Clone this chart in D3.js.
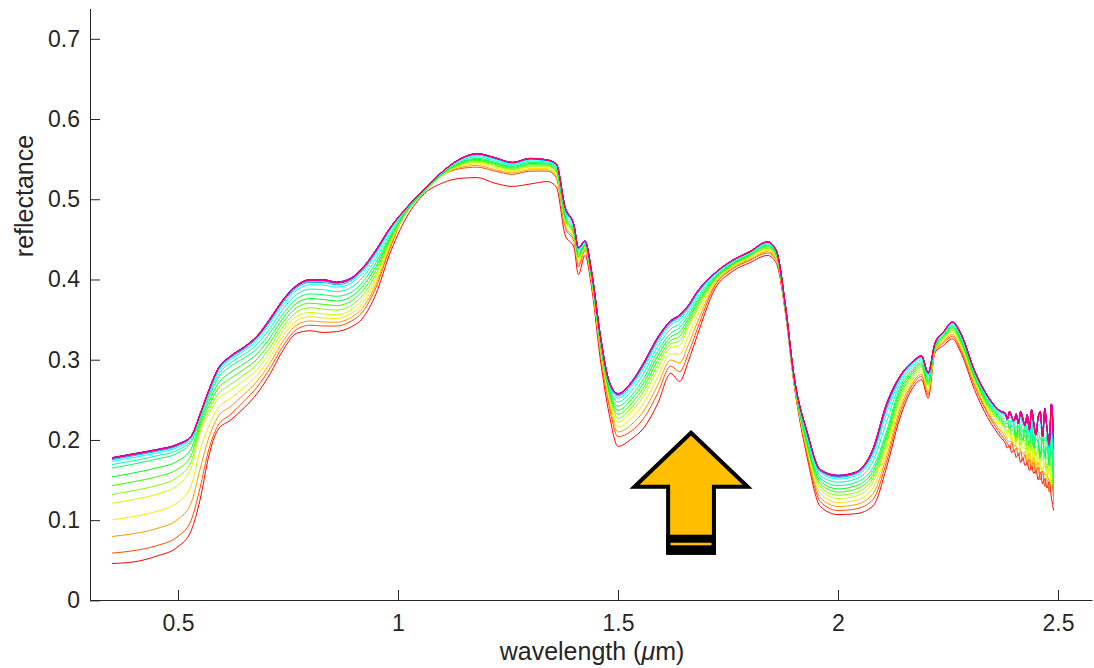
<!DOCTYPE html>
<html>
<head>
<meta charset="utf-8">
<script src="https://cdnjs.cloudflare.com/ajax/libs/d3/7.8.5/d3.min.js"></script>
<style>
    body { margin: 0; background: #fff; }
    svg { display: block; font-family: "Liberation Sans", Arial, Helvetica, sans-serif; }
    .axis path, .axis line { stroke: #262626; }
    .axis text { fill: #262626; font-size: 23px; font-family: "Liberation Sans", Arial, Helvetica, sans-serif; }
    .lineS { fill: none; stroke-width: 1; }
</style>
</head>
<body>
<div id="chart"></div>
<script>
// wavelength grid (um), shared by every spectrum
var wavelength = [
    0.35, 0.40, 0.45, 0.50, 0.53, 0.55, 0.57, 0.59,
    0.62, 0.65, 0.68, 0.71, 0.74, 0.77, 0.80, 0.83, 0.86, 0.89, 0.92, 0.95, 0.98,
    1.02, 1.06, 1.10, 1.14, 1.18, 1.22, 1.26, 1.30, 1.34,
    1.36, 1.38, 1.40, 1.41, 1.425, 1.44, 1.46, 1.48, 1.50,
    1.53, 1.56, 1.59, 1.62, 1.64, 1.66, 1.68,
    1.72, 1.76, 1.80, 1.84, 1.86, 1.88, 1.90, 1.93, 1.96,
    2.00, 2.04, 2.08, 2.11, 2.14, 2.17, 2.19, 2.205, 2.22, 2.24, 2.26, 2.28, 2.31, 2.34, 2.37,
    2.380, 2.385, 2.390, 2.395, 2.400, 2.405, 2.410, 2.415, 2.420, 2.425, 2.430, 2.435,
    2.440, 2.445, 2.450, 2.455, 2.460, 2.465, 2.470, 2.475, 2.480, 2.485, 2.490
];

// spectra: lowest (red), orange-red, yellow, green, top (blue)
var reflRed = [
    0.046, 0.048, 0.055, 0.067, 0.087, 0.125, 0.180, 0.212,
    0.225, 0.240, 0.258, 0.283, 0.313, 0.333, 0.336, 0.334, 0.335, 0.340, 0.352, 0.382, 0.430,
    0.478, 0.507, 0.520, 0.526, 0.527, 0.520, 0.516, 0.519, 0.522,
    0.515, 0.455, 0.440, 0.406, 0.430, 0.390, 0.300, 0.232, 0.192,
    0.201, 0.216, 0.245, 0.283, 0.273, 0.298, 0.330,
    0.388, 0.410, 0.421, 0.430, 0.420, 0.360, 0.270, 0.178, 0.117,
    0.107, 0.108, 0.118, 0.165, 0.226, 0.265, 0.275, 0.252, 0.308, 0.318, 0.326, 0.308, 0.263, 0.228, 0.203,
    0.196, 0.190, 0.193, 0.184, 0.188, 0.178, 0.183, 0.172, 0.178, 0.168, 0.172, 0.162,
    0.168, 0.158, 0.163, 0.150, 0.160, 0.145, 0.152, 0.140, 0.148, 0.128, 0.112
];
var reflOrange = [
    0.059, 0.062, 0.068, 0.080, 0.100, 0.140, 0.188, 0.217,
    0.232, 0.248, 0.266, 0.290, 0.318, 0.338, 0.343, 0.342, 0.342, 0.347, 0.360, 0.390, 0.436,
    0.487, 0.512, 0.530, 0.538, 0.540, 0.535, 0.531, 0.535, 0.535,
    0.526, 0.465, 0.447, 0.416, 0.436, 0.395, 0.308, 0.242, 0.204,
    0.211, 0.228, 0.258, 0.292, 0.285, 0.308, 0.338,
    0.392, 0.413, 0.424, 0.433, 0.424, 0.362, 0.272, 0.182, 0.123,
    0.112, 0.114, 0.126, 0.172, 0.232, 0.269, 0.279, 0.256, 0.310, 0.321, 0.329, 0.311, 0.268, 0.233, 0.207,
    0.200, 0.196, 0.190, 0.197, 0.186, 0.190, 0.180, 0.186, 0.174, 0.182, 0.168, 0.176,
    0.162, 0.172, 0.158, 0.166, 0.150, 0.162, 0.142, 0.158, 0.135, 0.150, 0.125
];
var reflYellow = [
    0.121, 0.126, 0.132, 0.144, 0.165, 0.210, 0.232, 0.250,
    0.262, 0.274, 0.288, 0.310, 0.337, 0.354, 0.359, 0.357, 0.356, 0.361, 0.375, 0.402, 0.444,
    0.484, 0.509, 0.530, 0.542, 0.546, 0.541, 0.536, 0.540, 0.540,
    0.532, 0.472, 0.454, 0.425, 0.441, 0.400, 0.316, 0.255, 0.222,
    0.235, 0.256, 0.288, 0.315, 0.318, 0.340, 0.362,
    0.398, 0.417, 0.428, 0.438, 0.428, 0.365, 0.275, 0.190, 0.138,
    0.127, 0.130, 0.148, 0.192, 0.248, 0.278, 0.288, 0.265, 0.312, 0.326, 0.336, 0.318, 0.275, 0.240, 0.219,
    0.212, 0.206, 0.214, 0.200, 0.207, 0.196, 0.205, 0.188, 0.200, 0.192, 0.180, 0.198,
    0.178, 0.192, 0.170, 0.186, 0.172, 0.162, 0.185, 0.150, 0.180, 0.142, 0.175
];
var reflGreen = [
    0.165, 0.170, 0.176, 0.184, 0.197, 0.225, 0.252, 0.276,
    0.292, 0.302, 0.314, 0.334, 0.358, 0.376, 0.382, 0.381, 0.379, 0.383, 0.397, 0.421, 0.452,
    0.487, 0.511, 0.532, 0.546, 0.551, 0.546, 0.541, 0.546, 0.545,
    0.538, 0.480, 0.460, 0.432, 0.444, 0.405, 0.322, 0.264, 0.242,
    0.255, 0.278, 0.310, 0.333, 0.340, 0.355, 0.374,
    0.403, 0.420, 0.432, 0.443, 0.432, 0.367, 0.277, 0.197, 0.152,
    0.143, 0.147, 0.166, 0.210, 0.264, 0.288, 0.297, 0.274, 0.316, 0.331, 0.342, 0.325, 0.281, 0.248, 0.228,
    0.222, 0.226, 0.214, 0.224, 0.218, 0.206, 0.222, 0.212, 0.200, 0.220, 0.205, 0.196,
    0.216, 0.190, 0.212, 0.200, 0.182, 0.215, 0.178, 0.205, 0.168, 0.232, 0.120
];
var reflTop = [
    0.178, 0.183, 0.188, 0.195, 0.205, 0.232, 0.262, 0.288,
    0.305, 0.316, 0.330, 0.352, 0.376, 0.393, 0.400, 0.400, 0.397, 0.401, 0.415, 0.437, 0.463,
    0.490, 0.513, 0.534, 0.550, 0.557, 0.552, 0.546, 0.551, 0.549,
    0.544, 0.490, 0.468, 0.440, 0.448, 0.410, 0.330, 0.273, 0.258,
    0.272, 0.298, 0.328, 0.349, 0.356, 0.368, 0.385,
    0.408, 0.424, 0.435, 0.447, 0.436, 0.370, 0.280, 0.210, 0.163,
    0.156, 0.160, 0.190, 0.245, 0.279, 0.298, 0.305, 0.284, 0.320, 0.335, 0.347, 0.332, 0.287, 0.255, 0.236,
    0.234, 0.226, 0.236, 0.229, 0.224, 0.233, 0.220, 0.236, 0.228, 0.218, 0.232, 0.214,
    0.238, 0.222, 0.206, 0.230, 0.236, 0.204, 0.240, 0.215, 0.196, 0.245, 0.205
];

// rank of each read spectrum among the 20 curves, and where every curve sits
var anchorRank = [0, 1, 4, 8, 14];
var curveRank = [0, 1, 2, 3, 4, 5, 6, 7, 8, 10, 11.8, 12.8, 13.4, 13.8, 14, 13.9, 13.8, 13.7, 13.75, 13.85];

var xTicks = [0.5, 1, 1.5, 2, 2.5];
var yTicks = [0, 0.1, 0.2, 0.3, 0.4, 0.5, 0.6, 0.7];

var W = 1094, H = 668;
var svg = d3.select("#chart").append("svg").attr("width", W).attr("height", H);

var x = d3.scaleLinear().domain([0.3, 2.5773]).range([90, 1092]);
var y = d3.scaleLinear().domain([0, 0.738]).range([600.4, 8.3]);

var anchors = [reflRed, reflOrange, reflYellow, reflGreen, reflTop];
var spectra = curveRank.map(function(p, i) {
    var values = wavelength.map(function(w, j) {
        var mix = d3.scaleLinear().domain(anchorRank).range(anchors.map(function(a) { return a[j]; }));
        return { w: w, r: mix(p) };
    });
    return { values: values, color: d3.hsl(i * 18, 1, 0.5).toString() };
});

var line = d3.line()
    .x(function(d) { return x(d.w); })
    .y(function(d) { return y(d.r); })
    .curve(d3.curveMonotoneX);

svg.selectAll(".lineS")
    .data(spectra)
    .enter().append("path")
    .attr("class", "lineS")
    .attr("d", function(d) { return line(d.values); })
    .style("stroke", function(d) { return d.color; });

// axes, MATLAB style with inward ticks
svg.append("g")
    .attr("class", "axis")
    .attr("transform", "translate(0,600)")
    .call(d3.axisBottom(x).tickValues(xTicks).tickFormat(d3.format("~g"))
        .tickSizeInner(-10).tickSizeOuter(0).tickPadding(15));

svg.append("g")
    .attr("class", "axis")
    .attr("transform", "translate(90,0)")
    .call(d3.axisLeft(y).tickValues(yTicks).tickFormat(d3.format("~g"))
        .tickSizeInner(-10).tickSizeOuter(0).tickPadding(10));

var xl = svg.append("text")
    .attr("x", 592).attr("y", 660)
    .attr("text-anchor", "middle")
    .style("font-size", "25px").style("fill", "#262626");
xl.append("tspan").text("wavelength (");
xl.append("tspan").style("font-style", "italic").text("\u03bc");
xl.append("tspan").text("m)");

svg.append("text")
    .attr("transform", "translate(33,196) rotate(-90)")
    .attr("text-anchor", "middle")
    .style("font-size", "25px").style("fill", "#262626")
    .text("reflectance");

// annotation arrow
var tipX = x(1.666), tipY = y(0.209);
var arrowPts = [[0, 0], [56.6, 54], [22.9, 54], [22.9, 120], [-22.9, 120], [-22.9, 54], [-56.6, 54]];
var arrow = svg.append("g").attr("transform", "translate(" + tipX + "," + tipY + ")");
arrow.append("polygon")
    .attr("points", arrowPts.map(function(p) { return p.join(","); }).join(" "))
    .style("fill", "#FFBF00")
    .style("stroke", "#000")
    .style("stroke-width", 4)
    .style("stroke-linejoin", "miter");
arrow.append("rect")
    .attr("x", -24.9).attr("y", 102).attr("width", 49.8).attr("height", 20)
    .style("fill", "#000");
arrow.append("rect")
    .attr("x", -20.5).attr("y", 110).attr("width", 41).attr("height", 2.6)
    .style("fill", "#FFBF00");
</script>
</body>
</html>
